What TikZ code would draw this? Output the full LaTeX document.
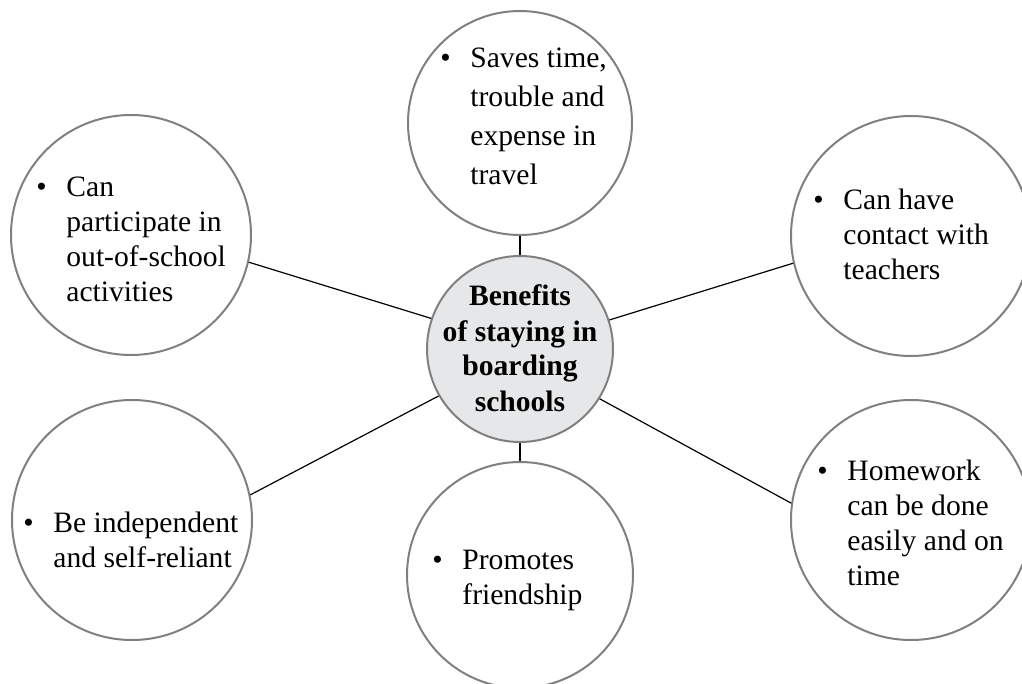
\documentclass[tikz,border=0pt]{standalone}
\usepackage{fontspec}
\setmainfont{Liberation Serif}
\definecolor{bubgray}{HTML}{808080}
\definecolor{hubfill}{HTML}{E6E7E8}
\begin{document}
\begin{tikzpicture}[x=0.5pt,y=-0.5pt,
  bubble/.style={circle, draw=bubgray, line width=1pt, fill=white, inner sep=0pt},
  hub/.style={bubble, fill=hubfill},
  link/.style={draw=black, line width=0.6pt},
  txt/.style={anchor=base west, inner sep=0pt, font=\fontsize{14.8}{17.5}\selectfont},
  txtwide/.style={txt, font=\fontsize{14.8}{19.5}\selectfont},
  hubtxt/.style={anchor=base, inner sep=0pt, font=\fontsize{14.8}{17.5}\selectfont\bfseries}]
\fill[white] (0,0) rectangle (1022,684);
\useasboundingbox (0,0) rectangle (1022,684);
% circles
\node[hub, minimum size=93pt] (hub) at (520,349) {};
\node[bubble, minimum size=112pt] (top) at (520,123) {};
\node[bubble, minimum size=113pt] (bot) at (520,575) {};
\node[bubble, minimum size=120pt] (lt) at (131,235) {};
\node[bubble, minimum size=120pt] (rt) at (911,236) {};
\node[bubble, minimum size=120pt] (lb) at (132,520) {};
\node[bubble, minimum size=120pt] (rb) at (911,520) {};
% connectors
\draw[link] (hub.north) -- (top.south);
\draw[link] (hub.south) -- (bot.north);
\draw[link] (hub.161) -- (lt.-13);
\draw[link] (hub.18) -- (rt.193);
\draw[link] (hub.-32) -- (rb.172);
\draw[link] (hub.210) -- (lb.12);
% texts
\node[hubtxt] (thub) at (520,306) {\begin{tabular}[t]{@{}c@{}}Benefits\\ of staying in\\ boarding\\ schools\end{tabular}};
\node[txtwide] (ttop) at (440,68) {\begin{tabular}[t]{@{}l@{}l@{}}\makebox[15pt][l]{\textbullet} & Saves time,\\ & trouble and\\ & expense in\\ & travel\end{tabular}};
\node[txt] (tlt) at (36,197) {\begin{tabular}[t]{@{}l@{}l@{}}\makebox[15pt][l]{\textbullet} & Can\\ & participate in\\ & out-of-school\\ & activities\end{tabular}};
\node[txt] (trt) at (813,210) {\begin{tabular}[t]{@{}l@{}l@{}}\makebox[15pt][l]{\textbullet} & Can have\\ & contact with\\ & teachers\end{tabular}};
\node[txt] (tlb) at (23,532) {\begin{tabular}[t]{@{}l@{}l@{}}\makebox[15pt][l]{\textbullet} & Be independent\\ & and self-reliant\end{tabular}};
\node[txt] (tbot) at (432,569) {\begin{tabular}[t]{@{}l@{}l@{}}\makebox[15pt][l]{\textbullet} & Promotes\\ & friendship\end{tabular}};
\node[txt] (trb) at (817,480) {\begin{tabular}[t]{@{}l@{}l@{}}\makebox[15pt][l]{\textbullet} & Homework\\ & can be done\\ & easily and on\\ & time\end{tabular}};
\end{tikzpicture}
\end{document}
